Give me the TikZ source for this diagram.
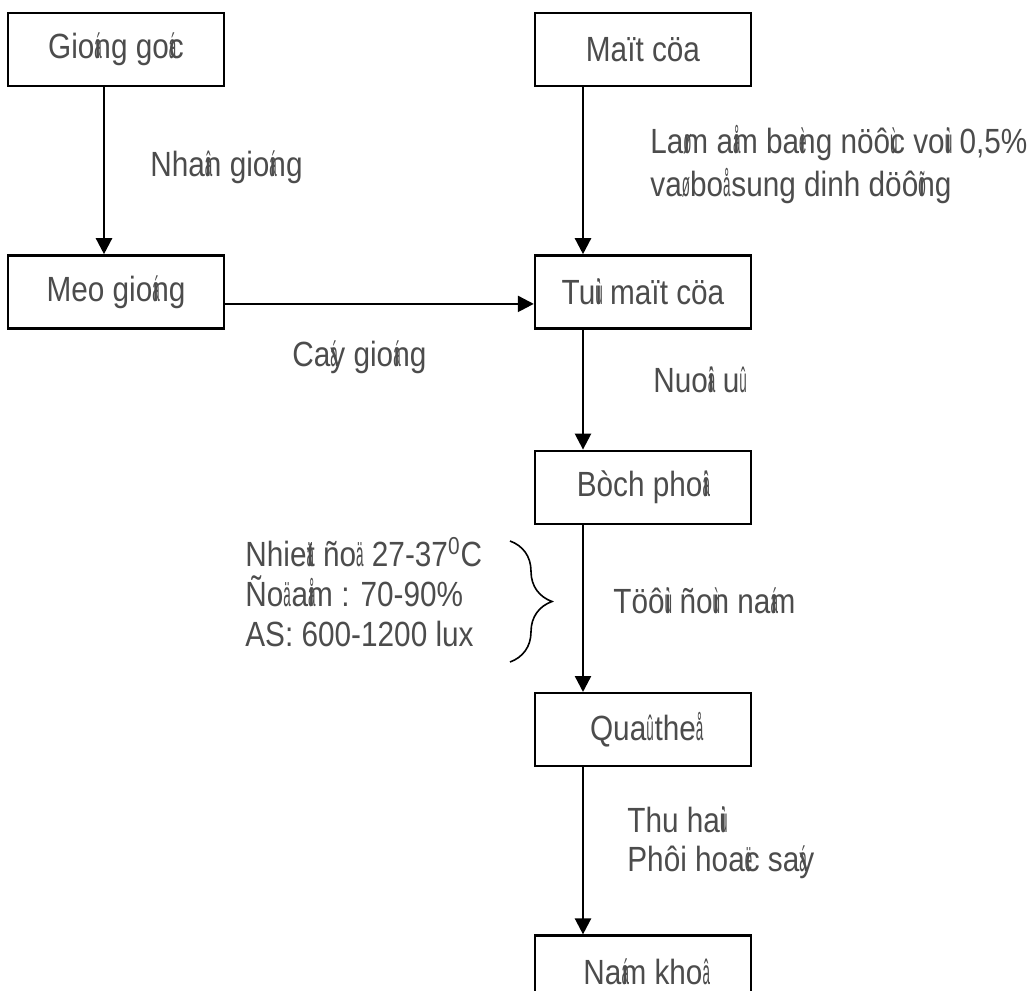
\documentclass[tikz,border=0pt]{standalone}
\usepackage{fontspec}
\setmainfont{Liberation Sans}[FakeStretch=0.85]
\usepackage{graphicx}
\usepackage{tikz}
\usetikzlibrary{positioning, arrows.meta, decorations.pathreplacing}
% mark bytes that the font sets with no width
\newcommand{\vk}[1]{\makebox[0pt][l]{\scalebox{0.45}[1]{#1}}}
\tikzset{
  process/.style={
    rectangle,
    minimum width=108pt,
    minimum height=36.5pt,
    align=center,
    draw=black,
    line width=1.2pt
    },
  arrow/.style={line width=1.2pt,-{Triangle[length=8pt,width=8pt]}},
  note/.style={
    anchor=west,
    align=left,
    inner sep=0pt
    },
}

\begin{document}
\begin{tikzpicture}[
            x = 0.5pt, y = -0.5pt, % pixel grid of the sheet
            font = \fontsize{17.5}{21.5}\selectfont,
            text = black!70
        ]
        \useasboundingbox (0,0) rectangle (1034,991);

         % left column
         \node[process] (goc) at (116,49.5) {Gio\vk{á}ng go\vk{á}c};
         \node[process, below=83.5pt of goc] (meo) {Meo gio\vk{á}ng};

         % right column
         \node[process] (mat) at (643,49.5) {Maït cöa};
         \node[process, below=83.5pt of mat] (tui) {Tu\vk{ù}i maït cöa};
         \node[process, below=60pt of tui] (bich) {Bòch pho\vk{â}i};
         \node[process, below=83.5pt of bich] (qua) {Qua\vk{û} the\vk{å}};
         \node[process, below=83.5pt of qua] (nam) {Na\vk{á}m kho\vk{â}};

         \draw[arrow] ([xshift=-6pt]goc.south) -- ([xshift=-6pt]meo.north);
         \draw[arrow] ([yshift=-6pt]meo.east) -- ([yshift=-6pt]tui.west);
         \draw[arrow] ([xshift=-30pt]mat.south) -- ([xshift=-30pt]tui.north);
         \draw[arrow] ([xshift=-30pt]tui.south) -- ([xshift=-30pt]bich.north);
         \draw[arrow] ([xshift=-30pt]bich.south) -- ([xshift=-30pt]qua.north);
         \draw[arrow] ([xshift=-30pt]qua.south) -- ([xshift=-30pt]nam.north);

         % labels
         \node[note] (nhan) at (150,167) {Nha\vk{â}n gio\vk{á}ng};
         \node[note] (lam) at (650,164.5) {La\vk{ø}m a\vk{å}m ba\vk{è}ng nöô\vk{ù}c vo\vk{ù}i 0,5\%\\va\vk{ø} bo\vk{å} sung dinh döô\vk{õ}ng};
         \node[note] (cay) at (292,357) {Ca\vk{á}y gio\vk{á}ng};
         \node[note] (nuoi) at (653,380) {Nuo\vk{â}i u\vk{û}};
         \node[note, font=\fontsize{17.5}{20}\selectfont] (cond) at (245,592)
              {Nhie\vk{ä}t ño\vk{ä}\hspace{0.45em}27-37\textsuperscript{0}C\\Ño\vk{ä} a\vk{å}m : 70-90\%\\AS: 600-1200 lux};
         \node[note] (tuoi) at (613,601) {Töô\vk{ù}i ño\vk{ù}n na\vk{á}m};
         \node[note, font=\fontsize{17.5}{19.5}\selectfont] (thu) at (627,842.5) {Thu ha\vk{ù}i\\Phôi hoa\vk{ë}c sa\vk{á}y};

         % brace
         \coordinate (bt) at (510,541);
         \coordinate (bb) at (510,662);
         \draw[line width=0.8pt] (bt) decorate[decoration={brace,amplitude=21pt}] {-- (bb)};
\end{tikzpicture}
\end{document}
